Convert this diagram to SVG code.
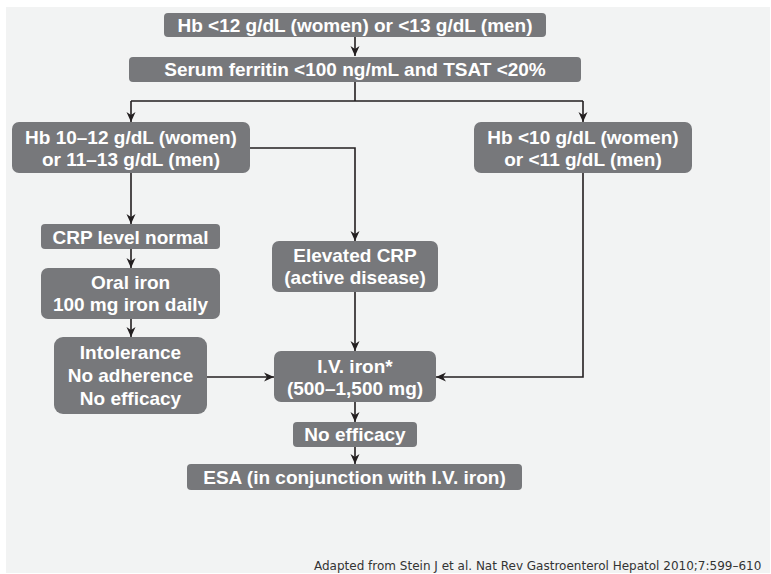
<svg xmlns="http://www.w3.org/2000/svg" width="771" height="574" viewBox="0 0 771 574">
<defs>
<marker id="ah" viewBox="0 0 10 10" refX="10" refY="5" markerWidth="10" markerHeight="10" markerUnits="userSpaceOnUse" orient="auto">
<path d="M0,0.5 L10,5 L0,9.5 L3,5 z" fill="#231f20"/>
</marker>
<style>
.box{fill:#77787b;}
.t{font-family:"Liberation Sans",Arial,sans-serif;font-weight:bold;font-size:19px;fill:#ffffff;text-anchor:middle;}
.c{fill:none;stroke:#231f20;stroke-width:1.6;}
.a{marker-end:url(#ah);}
.foot{font-family:"DejaVu Sans",Verdana,sans-serif;font-size:12px;fill:#333333;}
</style>
</defs>
<rect x="0" y="0" width="771" height="574" fill="#ffffff"/>
<rect x="6" y="7" width="764" height="566" fill="#f2f3f3"/>

<g id="connectors">
<path class="c a" d="M355,37 V56"/>
<path class="c" d="M355,82 V101 M131,101 H583"/>
<path class="c a" d="M131,101 V122"/>
<path class="c a" d="M583,101 V122"/>
<path class="c a" d="M250,148 H355 V241"/>
<path class="c a" d="M131,173 V224"/>
<path class="c a" d="M131,249 V268"/>
<path class="c a" d="M131,319 V337"/>
<path class="c a" d="M207,377 H274"/>
<path class="c a" d="M355,292 V351"/>
<path class="c a" d="M583,173 V377 H436"/>
<path class="c a" d="M355,402 V422"/>
<path class="c a" d="M355,447 V464"/>
</g>

<g id="n1"><rect class="box" x="164" y="13" width="382" height="24" rx="4"/>
<text class="t" x="355" y="32">Hb &lt;12 g/dL (women) or &lt;13 g/dL (men)</text></g>

<g id="n2"><rect class="box" x="129" y="57" width="452" height="25" rx="4"/>
<text class="t" x="355" y="76">Serum ferritin &lt;100 ng/mL and TSAT &lt;20%</text></g>

<g id="n3"><rect class="box" x="12" y="122" width="238" height="51" rx="7"/>
<text class="t" x="131" y="143.5">Hb 10–12 g/dL (women)</text>
<text class="t" x="131" y="165.5">or 11–13 g/dL (men)</text></g>

<g id="n4"><rect class="box" x="474" y="122" width="218" height="51" rx="7"/>
<text class="t" x="583" y="143.5">Hb &lt;10 g/dL (women)</text>
<text class="t" x="583" y="165.5">or &lt;11 g/dL (men)</text></g>

<g id="n5"><rect class="box" x="41" y="224" width="179" height="25" rx="4"/>
<text class="t" x="130.5" y="243.5">CRP level normal</text></g>

<g id="n6"><rect class="box" x="41" y="268" width="179" height="51" rx="7"/>
<text class="t" x="130.5" y="288.5">Oral iron</text>
<text class="t" x="130.5" y="311">100 mg iron daily</text></g>

<g id="n7"><rect class="box" x="54" y="337" width="153" height="77" rx="9"/>
<text class="t" x="130.5" y="359">Intolerance</text>
<text class="t" x="130.5" y="382">No adherence</text>
<text class="t" x="130.5" y="405">No efficacy</text></g>

<g id="n8"><rect class="box" x="272" y="241" width="166" height="51" rx="7"/>
<text class="t" x="355" y="262">Elevated CRP</text>
<text class="t" x="355" y="284">(active disease)</text></g>

<g id="n9"><rect class="box" x="274" y="351" width="162" height="51" rx="7"/>
<text class="t" x="355" y="373">I.V. iron*</text>
<text class="t" x="355" y="395">(500–1,500 mg)</text></g>

<g id="n10"><rect class="box" x="293" y="422" width="124" height="25" rx="4"/>
<text class="t" x="355" y="441">No efficacy</text></g>

<g id="n11"><rect class="box" x="187" y="464" width="335" height="26" rx="4"/>
<text class="t" x="354.5" y="483.5">ESA (in conjunction with I.V. iron)</text></g>

<text class="foot" x="314" y="569.5">Adapted from Stein J et al. Nat Rev Gastroenterol Hepatol 2010;7:599–610</text>
</svg>
